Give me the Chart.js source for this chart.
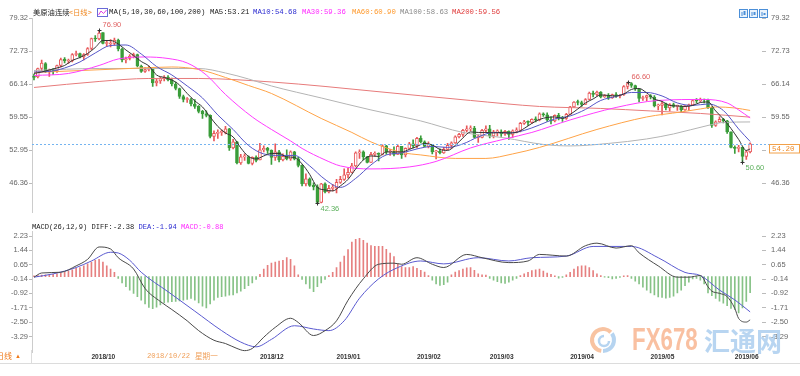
<!DOCTYPE html>
<html>
<head>
<meta charset="utf-8">
<script src="https://cdn.jsdelivr.net/npm/chart.js@4.4.1/dist/chart.umd.min.js"></script>
<style>
html, body { margin: 0; padding: 0; background: #fff; overflow: hidden; }
#wrap { position: relative; width: 800px; height: 376px; }
canvas { position: absolute; left: 0; }
</style>
</head>
<body>
<div id="wrap">
  <canvas id="kline" width="800" height="222" style="top:0"></canvas>
  <canvas id="macd" width="800" height="154" style="top:222px"></canvas>
</div>
<script>
// ---------------------------------------------------------------
//  Données : séances du 2018/09/10 au 2019/06/07 (index 0..187)
// ---------------------------------------------------------------
const opens = [67.8,67.6,69.3,70.3,68.6,69.0,68.9,69.9,71.2,70.8,
  70.9,72.1,72.3,71.6,72.1,73.3,75.3,75.2,76.5,74.3,
  74.2,74.3,75.0,73.2,71.0,71.3,71.8,72.1,69.8,68.7,
  69.1,69.2,66.4,66.8,67.3,67.6,67.0,66.2,65.3,63.7,
  63.1,63.1,62.2,61.7,60.7,60.2,59.9,55.7,56.3,56.5,
  56.5,57.2,53.4,54.6,50.4,51.6,51.6,50.3,51.5,51.0,
  53.0,53.3,52.9,51.5,52.6,51.0,51.7,51.2,52.6,51.2,
  49.9,46.2,47.2,45.9,45.6,42.5,46.2,44.6,45.3,45.4,
  46.5,47.1,48.0,48.5,49.8,52.4,52.6,51.6,50.5,52.1,
  52.3,52.1,53.8,52.6,52.6,52.1,53.7,52.0,53.3,54.2,
  53.8,55.3,54.6,53.7,54.0,52.6,52.7,52.4,53.1,53.9,
  54.4,55.6,56.1,56.9,57.2,57.3,55.5,55.5,56.9,57.2,
  55.8,56.6,56.6,56.2,56.7,56.1,56.8,56.9,58.3,58.6,
  58.5,59.1,59.0,60.2,60.0,59.0,58.8,59.9,59.4,59.3,
  60.1,61.6,62.6,62.5,62.1,63.1,64.4,64.1,64.6,63.6,
  63.9,63.4,64.1,63.8,64.0,65.7,66.3,65.9,65.2,63.3,
  63.5,63.9,63.6,61.8,61.9,62.3,61.4,62.1,61.7,61.7,
  61.0,61.8,62.0,62.9,62.8,63.1,63.0,61.4,57.9,58.6,
  59.1,58.8,56.6,53.5,53.3,53.5,51.7,52.6];

const highs = [68.2,69.4,71.0,70.5,69.2,69.3,70.0,71.4,71.5,71.2,
  72.3,72.8,72.4,72.3,73.5,75.4,75.9,76.9,76.5,74.9,
  75.1,75.4,75.2,73.4,71.6,72.1,72.4,72.2,70.0,69.5,
  69.8,69.4,67.2,67.6,67.9,67.9,67.4,66.6,65.4,64.0,
  63.5,63.4,63.1,61.9,60.9,60.8,60.0,56.8,57.0,57.0,
  57.7,57.3,55.1,54.7,52.1,52.2,51.8,51.6,51.8,54.3,
  53.8,53.5,53.0,54.2,52.9,52.2,53.0,52.8,52.7,51.5,
  50.0,48.2,47.4,46.4,46.0,46.3,46.4,45.9,46.1,47.1,
  47.7,49.2,49.3,50.3,52.6,53.0,52.8,51.7,52.5,52.6,
  52.4,54.0,53.9,53.1,53.6,54.0,53.7,53.4,54.5,55.0,
  55.5,55.8,54.8,54.6,54.0,52.9,53.2,53.5,54.3,54.6,
  55.8,56.3,57.1,57.8,57.8,57.7,56.0,57.1,57.8,57.9,
  56.9,57.0,57.0,56.9,56.8,57.0,57.4,58.5,58.9,58.8,
  59.2,59.6,60.4,60.4,60.4,59.6,60.0,60.3,59.7,60.3,
  61.7,62.7,63.0,62.8,63.3,64.6,64.8,64.8,64.7,64.1,
  64.3,64.2,64.5,64.1,65.9,66.6,66.5,66.0,65.2,63.8,
  64.0,64.1,63.9,62.2,62.7,62.4,62.3,62.4,62.0,61.9,
  61.9,62.2,63.1,63.3,63.4,63.2,63.2,61.6,58.8,59.6,
  59.3,58.9,56.6,53.8,53.9,53.6,52.9,54.4];

const lows = [67.0,67.4,68.8,68.5,67.7,68.1,68.5,69.6,70.4,70.3,
  70.6,71.8,71.4,71.0,71.9,73.0,74.7,75.0,74.2,73.7,
  73.6,74.0,72.8,70.6,70.4,71.0,71.4,69.6,68.5,68.5,
  68.8,65.7,65.8,66.3,66.8,66.8,65.8,65.0,63.3,62.6,
  62.5,61.8,61.3,60.4,59.3,59.6,55.4,54.8,55.3,55.9,
  56.2,52.9,53.2,50.2,50.1,50.9,50.2,50.0,50.6,51.0,
  52.6,52.3,50.1,50.9,50.6,50.8,51.0,50.9,51.0,49.6,
  45.8,45.8,45.7,45.0,42.36,42.4,44.4,44.4,44.8,44.4,
  46.3,46.9,47.4,48.4,49.6,51.3,51.0,50.4,50.5,51.7,
  50.8,52.0,52.1,51.9,51.8,52.1,51.3,51.6,53.2,53.4,
  53.4,54.4,53.6,53.4,52.2,51.2,52.2,52.3,53.0,53.3,
  54.3,55.4,55.7,56.6,56.8,55.4,54.5,55.4,56.5,55.4,
  55.4,55.8,55.7,55.9,55.1,55.5,56.4,56.6,58.1,57.9,
  58.3,58.6,58.8,59.7,58.7,58.2,58.6,59.0,58.7,59.1,
  60.1,61.5,62.0,61.7,62.1,63.0,63.6,63.8,63.4,63.5,
  63.1,63.3,63.5,63.4,63.9,65.2,65.5,64.9,62.6,62.9,
  62.8,63.2,61.6,61.0,60.0,61.0,60.8,61.5,60.9,60.6,
  60.9,60.9,61.9,62.4,62.6,62.4,61.3,57.5,57.7,58.5,
  58.4,56.3,53.4,52.3,52.6,50.6,51.1,52.4];

const closes = [67.5,69.3,70.4,68.6,69.0,68.9,69.9,71.1,70.8,70.8,
  72.1,72.3,71.6,72.1,73.3,75.3,75.2,76.4,74.3,74.3,
  74.3,75.0,73.2,71.0,71.3,71.8,72.1,69.8,68.7,69.1,
  69.2,66.4,66.8,67.3,67.6,67.0,66.2,65.3,63.7,63.1,
  63.1,62.2,61.7,60.7,60.2,59.9,55.7,56.3,56.5,56.5,
  57.2,53.4,54.6,50.4,51.6,51.6,50.3,51.5,50.9,53.0,
  53.3,52.9,51.5,52.6,51.0,51.7,51.2,52.6,51.2,49.9,
  46.2,47.2,45.9,45.6,42.5,46.2,44.6,45.3,45.4,46.5,
  47.1,48.0,48.5,49.8,52.4,52.6,51.6,50.5,52.1,52.3,
  52.1,53.8,52.6,52.6,52.1,53.7,52.0,53.3,54.2,53.8,
  55.3,54.6,53.7,54.0,52.6,52.7,52.4,53.1,53.9,54.4,
  55.6,56.1,56.9,57.2,57.3,55.5,55.5,56.9,57.2,55.8,
  56.6,56.6,56.2,56.7,56.1,56.8,56.9,58.3,58.6,58.5,
  59.1,59.0,60.2,60.0,59.0,58.8,59.9,59.4,59.3,60.1,
  61.6,62.6,62.5,62.1,63.1,64.4,64.1,64.6,63.6,63.9,
  63.4,64.1,63.8,64.0,65.7,66.3,65.9,65.2,63.3,63.5,
  63.9,63.6,61.8,61.9,62.3,61.4,62.1,61.7,61.7,61.0,
  61.8,62.0,62.9,62.8,63.1,63.0,61.4,57.9,58.6,59.1,
  58.8,56.6,53.5,53.3,53.5,51.7,52.6,54.2];

// moyennes mobiles : [index, valeur]
const ma5 = [[0,68.3],[2,68.6],[4,69.0],[6,69.4],[8,69.9],[10,70.9],[12,71.5],[14,72.3],[16,73.5],[18,74.9],
  [20,74.9],[22,74.2],[24,73.0],[26,71.9],[28,70.7],[30,69.8],[32,68.0],[34,67.5],[36,67.0],[38,66.0],
  [40,64.3],[42,62.8],[44,61.6],[46,59.6],[48,57.7],[50,56.4],[52,55.6],[54,53.4],[56,51.7],[58,51.2],
  [60,51.8],[62,52.3],[64,52.3],[66,51.6],[68,51.5],[70,50.2],[72,48.1],[74,45.5],[76,45.0],[78,44.8],
  [80,45.8],[82,47.1],[84,49.2],[86,51.0],[88,51.8],[90,51.7],[92,52.6],[94,52.6],[96,52.6],[98,53.1],
  [100,53.7],[102,54.3],[104,54.0],[106,53.1],[108,52.9],[110,53.9],[112,55.4],[114,56.6],[116,56.5],[118,56.5],
  [120,56.4],[122,56.5],[124,56.4],[126,56.5],[128,57.3],[130,58.3],[132,59.1],[134,59.5],[136,59.6],[138,59.3],
  [140,60.1],[142,61.2],[144,62.4],[146,63.2],[148,64.0],[150,63.9],[152,63.8],[154,64.2],[156,65.1],[158,65.3],
  [160,64.4],[162,63.2],[164,62.7],[166,61.9],[168,61.8],[170,61.7],[172,61.9],[174,62.5],[176,62.6],[178,60.8],
  [180,59.2],[182,57.3],[184,55.1],[186,52.9],[187,53.2]];
const ma10 = [[0,68.6],[4,68.7],[8,69.4],[12,70.6],[16,72.4],[20,73.9],[24,74.0],[28,72.2],[32,69.7],[36,68.0],
  [40,65.8],[44,63.4],[48,60.0],[52,57.1],[56,53.9],[60,52.2],[64,51.9],[68,51.9],[72,49.8],[76,47.1],
  [80,45.5],[84,47.3],[88,50.0],[92,52.0],[96,52.4],[100,53.2],[104,53.7],[108,53.5],[112,54.2],[116,55.6],
  [120,56.5],[124,56.4],[128,56.9],[132,58.0],[136,59.2],[140,59.8],[144,61.1],[148,62.9],[152,63.7],[156,64.5],
  [160,64.5],[164,63.8],[168,62.4],[172,61.9],[176,62.2],[180,60.9],[184,57.2],[187,54.7]];
const ma30 = [[0,67.9],[9,68.3],[17,69.9],[22,71.2],[29,71.6],[35,71.3],[40,70.4],[45,68.0],[50,64.1],[57,59.6],
  [62,57.1],[67,54.8],[70,53.3],[76,51.0],[80,49.8],[88,49.2],[98,49.6],[105,50.7],[114,53.4],[123,55.2],
  [130,56.5],[140,59.0],[152,61.5],[163,62.9],[175,63.1],[181,62.4],[184,61.0],[187,59.4]];
const ma60 = [[0,68.5],[25,69.3],[36,69.6],[43,69.1],[50,67.5],[56,65.9],[62,64.3],[75,59.3],[83,56.5],[88,54.6],
  [96,52.5],[101,52.0],[110,51.3],[118,51.3],[125,52.2],[132,53.5],[147,57.1],[160,59.6],[169,60.6],[174,61.2],
  [178,61.6],[183,61.4],[187,60.9]];
const ma100 = [[0,68.9],[17,69.3],[43,69.3],[50,68.4],[56,67.2],[62,65.8],[75,63.4],[88,61.0],[101,58.8],[112,56.5],
  [123,55.4],[133,54.1],[140,53.8],[150,54.3],[160,55.2],[167,56.2],[176,57.9],[180,58.5],[187,58.6]];
const ma200 = [[0,65.5],[17,66.7],[30,67.3],[43,67.3],[62,66.6],[76,65.7],[88,64.8],[114,62.9],[132,61.7],[148,61.3],
  [161,60.8],[174,60.3],[187,59.56]];

const maNames = ["MA5", "MA10", "MA30", "MA60", "MA100", "MA200"];
const maLast = ["53.21", "54.68", "59.36", "60.90", "58.63", "59.56"];

// MACD (26,12,9)
const macdHist = [0.05,0.06,0.08,0.1,0.1,0.12,0.15,0.2,0.24,0.3,
  0.38,0.45,0.5,0.6,0.7,0.8,0.9,0.95,0.8,0.6,
  0.42,0.24,-0.1,-0.35,-0.55,-0.75,-0.92,-1.1,-1.3,-1.5,
  -1.7,-1.76,-1.68,-1.55,-1.45,-1.4,-1.38,-1.36,-1.34,-1.3,
  -1.25,-1.2,-1.3,-1.45,-1.62,-1.72,-1.5,-1.3,-1.15,-1.1,
  -1.08,-1.02,-1.0,-0.9,-0.8,-0.66,-0.5,-0.35,-0.15,0.12,
  0.42,0.62,0.75,0.8,0.85,0.9,1.05,0.95,0.6,0.1,
  -0.15,-0.4,-0.65,-0.83,-0.55,-0.35,-0.15,0.06,0.24,0.5,
  0.8,1.13,1.48,1.9,2.05,2.1,2.0,1.85,1.7,1.66,
  1.66,1.66,1.5,1.3,1.1,0.7,0.55,0.5,0.5,0.55,
  0.45,0.35,0.25,0.06,-0.2,-0.4,-0.48,-0.44,-0.3,0.1,
  0.25,0.33,0.41,0.48,0.5,0.35,0.15,0.1,0.08,-0.1,
  -0.2,-0.28,-0.35,-0.38,-0.3,-0.2,-0.1,0.06,0.15,0.24,
  0.33,0.38,0.41,0.3,0.2,0.12,0.05,-0.08,-0.04,0.1,
  0.24,0.41,0.55,0.6,0.6,0.5,0.33,0.15,0.06,-0.03,
  -0.06,-0.12,-0.1,-0.05,0.04,0.06,-0.1,-0.25,-0.4,-0.58,
  -0.74,-0.9,-1.0,-1.12,-1.15,-1.19,-1.15,-1.08,-0.9,-0.75,
  -0.5,-0.3,-0.12,-0.1,-0.2,-0.4,-0.9,-1.05,-1.2,-1.35,
  -1.46,-1.6,-1.75,-1.81,-1.99,-1.72,-1.37,-0.88];
const diffLine = [[0,-0.03],[2,0.2],[7,0.24],[11,0.59],[14,0.95],[17,1.63],[20,1.52],[22,1.04],[26,0.42],[29,-0.65],
  [33,-1.37],[36,-1.81],[40,-2.43],[43,-2.97],[47,-3.5],[50,-3.68],[53,-3.95],[55,-4.07],[57,-3.95],[60,-3.33],
  [63,-2.79],[67,-2.29],[69,-2.52],[73,-3.24],[76,-2.97],[79,-2.43],[82,-1.3],[86,-0.12],[90,0.68],[94,0.74],
  [96,0.68],[100,1.04],[104,0.68],[107,0.5],[113,1.22],[117,1.04],[124,0.77],[129,0.86],[132,1.22],[139,1.13],
  [144,1.7],[147,1.84],[152,1.57],[156,1.7],[158,1.31],[163,0.59],[168,-0.03],[171,-0.03],[174,0.06],[176,-0.56],
  [177,-0.8],[179,-0.92],[181,-1.1],[183,-1.75],[184,-2.3],[186,-2.5],[187,-2.38]];
const deaLine = [[0,-0.03],[5,0.15],[11,0.5],[15,0.86],[20,1.34],[22,1.3],[25,0.9],[28,0.24],[35,-0.83],[42,-1.9],
  [49,-2.97],[54,-3.6],[58,-3.86],[62,-3.45],[68,-2.7],[73,-2.88],[77,-2.97],[81,-2.43],[85,-1.19],[90,-0.12],
  [95,0.5],[101,0.86],[107,0.7],[116,1.04],[124,0.86],[130,1.04],[139,1.13],[146,1.66],[156,1.66],[163,1.04],
  [170,0.23],[174,0.06],[179,-0.74],[183,-1.28],[187,-1.94]];

const priceTicks = [79.32, 72.73, 66.14, 59.55, 52.95, 46.36];
const macdTicks = [2.23, 1.44, 0.65, -0.14, -0.92, -1.71, -2.50, -3.29];
const monthIdx = [15, 59, 79, 100, 119, 140, 161, 183];
const monthLabels = ["2018/10", "2018/12", "2019/01", "2019/02", "2019/03", "2019/04", "2019/05", "2019/06"];

const lastPrice = 54.20;
const extremes = [
  { i: 17, v: 76.90, kind: "high" },
  { i: 74, v: 42.36, kind: "low" },
  { i: 155, v: 66.60, kind: "high" },
  { i: 185, v: 50.60, kind: "low" }
];

// ---------------------------------------------------------------
//  Styles
// ---------------------------------------------------------------
const SANS = '"Liberation Sans", Arial, sans-serif';
const MONO = '"Liberation Mono", "DejaVu Sans Mono", monospace';
const CJK = '"Noto Sans CJK SC", "Noto Sans", sans-serif';
const UP = "#e8585a", DOWN = "#3a9d3a";
const maColors = ["#333333", "#5656c8", "#ff3cff", "#ffa347", "#b4b4b4", "#e77b7b"];
const maLabelColors = ["#222222", "#2b2bd0", "#ff2bff", "#ff9a2e", "#8a8a8a", "#e03c3c"];

const X_MIN = -0.52, X_MAX = 190.1;

function yAxis(pos, ticks, min, max) {
  const left = pos === "left";
  return {
    type: "linear", position: pos, min, max,
    afterFit: s => { s.width = left ? 32 : 38; },
    afterBuildTicks: s => { s.ticks = ticks.map(v => ({ value: v })); },
    ticks: {
      callback: v => v.toFixed(2),
      color: "#666", padding: left ? 1 : 5,
      font: { size: 7.5, family: SANS }
    },
    grid: { drawOnChartArea: false, drawTicks: true, tickLength: left ? 3 : 4, color: "#bbb" },
    border: { display: left, color: "#ccc", dash: [2, 2] }
  };
}

function lineSet(points, color) {
  return {
    type: "line",
    data: points.map(p => ({ x: p[0], y: p[1] })),
    borderColor: color, borderWidth: 1, pointRadius: 0,
    cubicInterpolationMode: "monotone", order: 0
  };
}

// ---------------------------------------------------------------
//  Décor du graphique des cours
// ---------------------------------------------------------------
const priceDecor = {
  id: "priceDecor",
  afterDatasetsDraw(chart) {
    const { ctx, chartArea: a, scales: { x, y } } = chart;
    ctx.save();

    // ligne du dernier cours
    const ly = Math.round(y.getPixelForValue(lastPrice)) + 0.5;
    ctx.strokeStyle = "#74b4f0";
    ctx.lineWidth = 1;
    ctx.setLineDash([2, 2]);
    ctx.beginPath(); ctx.moveTo(a.left, ly); ctx.lineTo(769, ly); ctx.stroke();
    ctx.setLineDash([]);
    ctx.fillStyle = "#fff";
    ctx.fillRect(769, ly, 31, 9);
    ctx.strokeStyle = "#f2a14a";
    ctx.strokeRect(769.5, ly, 30, 8.5);
    ctx.fillStyle = "#f08c28";
    ctx.font = "7.5px " + MONO;
    ctx.textBaseline = "middle";
    ctx.fillText(lastPrice.toFixed(2), 772, ly + 4.8);

    // plus haut / plus bas
    ctx.font = "7.5px " + SANS;
    extremes.forEach(e => {
      const px = Math.round(x.getPixelForValue(e.i)) + 0.5;
      const py = Math.round(y.getPixelForValue(e.v)) + 0.5;
      ctx.strokeStyle = "#333";
      ctx.beginPath();
      ctx.moveTo(px - 2, py); ctx.lineTo(px + 2, py);
      ctx.moveTo(px, py - 2); ctx.lineTo(px, py + 2);
      ctx.stroke();
      ctx.fillStyle = e.kind === "high" ? "#e06262" : "#5cb05c";
      ctx.fillText(e.v.toFixed(2), px + 3, e.kind === "high" ? py - 6 : py + 5);
    });

    // titre
    ctx.textBaseline = "middle";
    const ty = 12.5;
    ctx.font = "7.3px " + CJK;
    ctx.fillStyle = "#222";
    ctx.fillText("美原油连续", 33, ty);
    ctx.fillStyle = "#f08a24";
    ctx.fillText("<日线>", 69, ty);
    // petite icône
    ctx.strokeStyle = "#6a6ad8";
    ctx.strokeRect(97.5, 8.5, 10, 8);
    ctx.strokeStyle = "#e040e0";
    ctx.beginPath(); ctx.moveTo(98.5, 15); ctx.lineTo(101, 11); ctx.lineTo(103.5, 13.5); ctx.lineTo(106.5, 10); ctx.stroke();

    ctx.font = "7.3px " + MONO;
    ctx.fillStyle = "#222";
    ctx.fillText("MA(5,10,30,60,100,200)", 109, ty);
    const maX = [210, 253, 302, 352, 400, 452];
    maNames.forEach((n, k) => {
      ctx.fillStyle = maLabelColors[k];
      ctx.fillText(n + ":" + maLast[k], maX[k], ty);
    });

    // icônes en haut à droite
    [739.5, 749.5, 759.5].forEach((ix, k) => {
      ctx.fillStyle = "#eaf3fc";
      ctx.fillRect(ix, 9.5, 8, 8);
      ctx.strokeStyle = "#4b8fd8";
      ctx.strokeRect(ix, 9.5, 8, 8);
      ctx.fillStyle = "#4b8fd8";
      ctx.fillRect(ix + 2, 12, 1, 4);
      ctx.fillRect(ix + 4, 11 + k, 2, 4 - k);
    });
    ctx.restore();
  }
};

// ---------------------------------------------------------------
//  Décor du graphique MACD
// ---------------------------------------------------------------
const macdDecor = {
  id: "macdDecor",
  afterDraw(chart) {
    const { ctx } = chart;
    ctx.save();
    ctx.textBaseline = "middle";

    // titre MACD
    ctx.font = "7.1px " + MONO;
    let tx = 32;
    [["MACD(26,12,9)", "#222"], ["DIFF:-2.38", "#222"], ["DEA:-1.94", "#2b2bd0"], ["MACD:-0.88", "#ff2bff"]]
      .forEach(([t, c]) => {
        ctx.fillStyle = c;
        ctx.fillText(t, tx, 5);
        tx += ctx.measureText(t + " ").width;
      });

    // bas de l'axe
    ctx.strokeStyle = "#dcdcdc";
    ctx.lineWidth = 1;
    ctx.beginPath(); ctx.moveTo(0, 141.5); ctx.lineTo(800, 141.5); ctx.stroke();
    ctx.beginPath(); ctx.moveTo(31.5, 128); ctx.lineTo(31.5, 141.5); ctx.stroke();

    ctx.fillStyle = "#f07a1a";
    ctx.font = "8px " + CJK;
    ctx.fillText("日线", -4, 134);
    ctx.font = "6px " + SANS;
    ctx.fillText("▲", 15, 134);

    ctx.fillStyle = "#f0a05a";
    ctx.font = "7.2px " + MONO;
    ctx.fillText("2018/10/22", 147, 134);
    ctx.font = "7.6px " + CJK;
    ctx.fillText("星期一", 195, 134);

    // filigrane
    const cy = 118;
    ctx.globalAlpha = 0.8;
    ctx.lineWidth = 4;
    ctx.strokeStyle = "#f6b48a";
    ctx.beginPath(); ctx.arc(603, cy, 11, Math.PI * 0.55, Math.PI * 1.75); ctx.stroke();
    ctx.strokeStyle = "#a4c9ec";
    ctx.beginPath(); ctx.arc(603, cy, 11, -Math.PI * 0.2, Math.PI * 0.5); ctx.stroke();
    ctx.lineWidth = 2.5;
    ctx.beginPath(); ctx.arc(604, cy + 1, 5, 0, Math.PI * 1.5); ctx.stroke();

    ctx.save();
    ctx.translate(632, cy + 1);
    ctx.scale(0.72, 1);
    ctx.font = "bold 31px " + SANS;
    ctx.fillStyle = "#f7b08a";
    ctx.fillText("FX678", 0, 0);
    ctx.restore();

    ctx.font = "bold 26px " + CJK;
    ctx.fillStyle = "#a6cbee";
    ctx.fillText("汇通网", 704, cy + 1);
    ctx.restore();
  }
};

// ---------------------------------------------------------------
//  Graphique des cours (bougies + MA)
// ---------------------------------------------------------------
const isUp = i => closes[i] >= opens[i];

new Chart(document.getElementById("kline"), {
  type: "bar",
  data: {
    datasets: [
      lineSet(ma5, maColors[0]),
      lineSet(ma10, maColors[1]),
      lineSet(ma30, maColors[2]),
      lineSet(ma60, maColors[3]),
      lineSet(ma100, maColors[4]),
      lineSet(ma200, maColors[5]),
      {
        type: "bar",
        data: opens.map((o, i) => ({ x: i, y: [o, closes[i]] })),
        backgroundColor: c => isUp(c.dataIndex) ? "#ffffff" : DOWN,
        borderColor: c => isUp(c.dataIndex) ? UP : DOWN,
        borderWidth: 1, borderSkipped: false,
        barThickness: 3, minBarLength: 1, grouped: false, order: 1
      },
      {
        type: "bar",
        data: lows.map((l, i) => ({ x: i, y: [l, highs[i]] })),
        backgroundColor: c => isUp(c.dataIndex) ? UP : DOWN,
        barThickness: 1, grouped: false, order: 2
      }
    ]
  },
  options: {
    responsive: false, animation: false, devicePixelRatio: 1, events: [],
    layout: { padding: { top: 18, bottom: 2, left: 0, right: 0 } },
    plugins: { legend: { display: false }, tooltip: { enabled: false } },
    scales: {
      x: { type: "linear", min: X_MIN, max: X_MAX, offset: false, display: false },
      y: yAxis("left", priceTicks, 40.48, 79.4),
      y2: yAxis("right", priceTicks, 40.48, 79.4)
    }
  },
  plugins: [priceDecor]
});

// ---------------------------------------------------------------
//  Graphique MACD
// ---------------------------------------------------------------
new Chart(document.getElementById("macd"), {
  type: "bar",
  data: {
    datasets: [
      lineSet(diffLine, "#4a4a4a"),
      lineSet(deaLine, "#5a5ad0"),
      {
        type: "bar",
        data: macdHist.map((v, i) => ({ x: i, y: v })),
        backgroundColor: c => macdHist[c.dataIndex] >= 0 ? "#e68080" : "#86c286",
        barThickness: 1, grouped: false, order: 1
      }
    ]
  },
  options: {
    responsive: false, animation: false, devicePixelRatio: 1, events: [],
    layout: { padding: { top: 6, bottom: 0, left: 0, right: 0 } },
    plugins: { legend: { display: false }, tooltip: { enabled: false } },
    scales: {
      x: {
        type: "linear", min: X_MIN, max: X_MAX, offset: false, position: "bottom",
        afterFit: s => { s.height = 24; },
        afterBuildTicks: s => { s.ticks = monthIdx.map(v => ({ value: v })); },
        ticks: {
          autoSkip: false, maxRotation: 0, align: "start", padding: 1,
          color: "#333", font: { size: 6.6, weight: "bold", family: SANS },
          callback: (v, i) => monthLabels[i]
        },
        grid: { drawOnChartArea: false, drawTicks: false, offset: false },
        border: { display: false }
      },
      y: yAxis("left", macdTicks, -4.145, 2.481),
      y2: yAxis("right", macdTicks, -4.145, 2.481)
    }
  },
  plugins: [macdDecor]
});
</script>
</body>
</html>
